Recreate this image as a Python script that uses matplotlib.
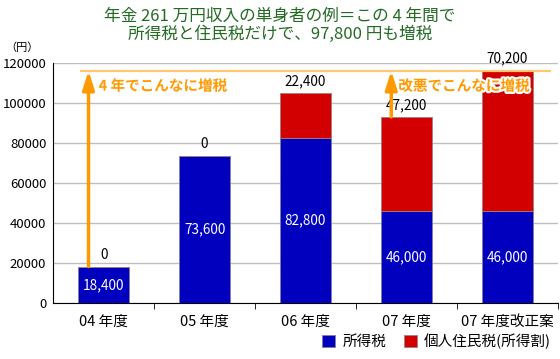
import matplotlib
matplotlib.use("Agg")
import matplotlib.pyplot as plt
import matplotlib.patheffects as pe
import numpy as np

plt.rcParams['font.family'] = ['Noto Sans CJK JP', 'DejaVu Sans']

# data
categories = ['04 年度', '05 年度', '06 年度', '07 年度', '07 年度改正案']
income_tax = [18400, 73600, 82800, 46000, 46000]
resident_tax = [0, 0, 22400, 47200, 70200]
yticks = [0, 20000, 40000, 60000, 80000, 100000, 120000]

blue = '#0000BE'
red = '#D20000'
orange = '#FF9900'

fig = plt.figure(figsize=(5.6, 3.59), dpi=100)
ax = fig.add_axes([0.095, 0.155, 0.901, 0.669])

x = np.arange(len(categories))
totals = np.array(income_tax) + np.array(resident_tax)

ax.bar(x, income_tax, width=0.5, color=blue, edgecolor='#8080a0', linewidth=0.6,
       label='所得税', zorder=3)
ax.bar(x, resident_tax, width=0.5, bottom=income_tax, color=red,
       edgecolor='#a08080', linewidth=0.6, label='個人住民税(所得割)', zorder=3)

# value labels
for i in range(len(x)):
    ax.text(x[i], income_tax[i] / 2, f'{income_tax[i]:,}', color='white',
            ha='center', va='center', fontsize=9.8, zorder=5)
    ax.text(x[i], totals[i] + 2500, f'{resident_tax[i]:,}', color='black',
            ha='center', va='bottom', fontsize=9.8, zorder=5)

# reference line at last total
ax.axhline(totals[-1], xmin=0.055, xmax=0.985, color='#FFC870', lw=1.6, zorder=4)

# arrows
for i in [0, 3]:
    ax.annotate('', xy=(x[i] - 0.15, totals[-1]), xytext=(x[i] - 0.15, totals[i]),
                arrowprops=dict(arrowstyle='-|>,head_width=0.35,head_length=1.1',
                                color=orange, lw=2.5, shrinkA=0, shrinkB=0),
                zorder=6)

stroke = [pe.withStroke(linewidth=3, foreground='white')]
ax.text(x[0] - 0.05, 108800, '4 年でこんなに増税', color=orange, fontsize=10.5,
        fontweight='bold', ha='left', va='center', zorder=7, path_effects=stroke)
ax.text(x[3] - 0.08, 108800, '改悪でこんなに増税', color=orange, fontsize=10.5,
        fontweight='bold', ha='left', va='center', zorder=7, path_effects=stroke)

ax.set_xlim(-0.5, len(categories) - 0.5)
ax.set_ylim(0, 120000)
ax.set_yticks(yticks)
ax.set_yticklabels([str(v) for v in yticks], fontsize=9.5)
ax.tick_params(axis='y', length=0, pad=5)
ax.set_xticks(x)
ax.set_xticklabels(categories, fontsize=10.5)
ax.tick_params(axis='x', which='major', length=0, pad=8)
ax.set_xticks(np.arange(len(categories)) + 0.5, minor=True)
ax.tick_params(axis='x', which='minor', length=4, direction='out')

ax.grid(axis='y', color='#BEBEBE', lw=1, zorder=0)
ax.spines['top'].set_visible(False)
ax.spines['right'].set_visible(False)
ax.spines['left'].set_color('black')
ax.spines['bottom'].set_color('black')

fig.text(0.04, 0.868, '（円）', fontsize=8, ha='center', va='center')

fig.text(0.5, 0.955, '年金 261 万円収入の単身者の例＝この 4 年間で', color='#236B23',
         fontsize=12, ha='center', va='center')
fig.text(0.5, 0.905, '所得税と住民税だけで、97,800 円も増税', color='#236B23',
         fontsize=12, ha='center', va='center')

ax.legend(loc='lower right', bbox_to_anchor=(1.005, -0.005), bbox_transform=fig.transFigure,
          ncol=2, frameon=False, fontsize=10.5, handlelength=0.9, handleheight=0.9,
          handletextpad=0.5, columnspacing=1.2, borderpad=0.3)

fig.savefig('out.png', dpi=100)
